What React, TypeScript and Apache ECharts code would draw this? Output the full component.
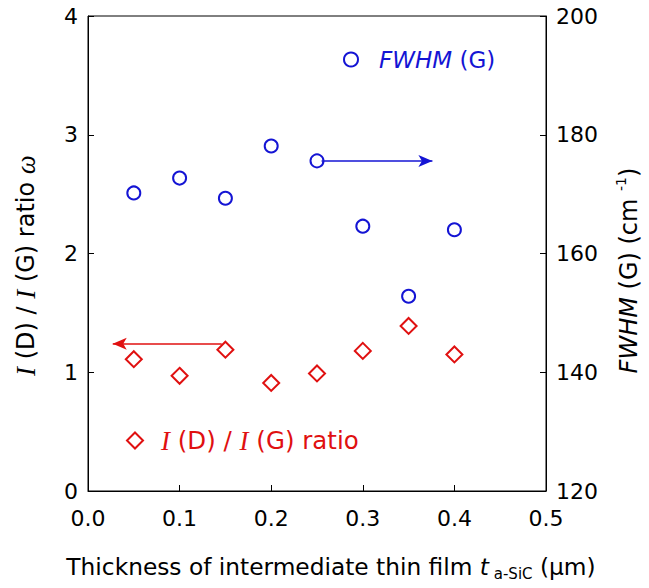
import React, { useEffect, useRef } from "react";
import * as echarts from "echarts";

const thickness = [0.05, 0.1, 0.15, 0.2, 0.25, 0.3, 0.35, 0.4];
const fwhm = [170.2, 172.7, 169.3, 178.1, 175.6, 164.6, 152.8, 164.0];
const ratio = [1.11, 0.97, 1.19, 0.91, 0.99, 1.18, 1.39, 1.15];
const xTicks = { min: 0, max: 0.5, interval: 0.1 };
const leftTicks = { min: 0, max: 4, interval: 1 };
const rightTicks = { min: 120, max: 200, interval: 20 };

const BLUE = "#1414d4";
const RED = "#e01010";
const FONT = "DejaVu Sans";
const SERIF = "Liberation Serif";

export default function App() {
  const ref = useRef<HTMLDivElement>(null);
  useEffect(() => {
    const chart = echarts.init(ref.current!, null, { renderer: "svg" });
    const axisCommon = {
      axisLine: { show: true, lineStyle: { color: "#000", width: 1 } },
      axisTick: { show: true, inside: true, length: 6, lineStyle: { color: "#000" } },
      splitLine: { show: false },
      axisLabel: { color: "#000", fontSize: 22, fontFamily: FONT },
    };
    chart.setOption({
      animation: false,
      backgroundColor: "#fff",
      grid: { left: 88, right: 103, top: 16, bottom: 97, show: true, borderColor: "#000", borderWidth: 1, backgroundColor: "transparent" },
      xAxis: {
        type: "value",
        ...xTicks,
        ...axisCommon,
        axisLabel: { ...axisCommon.axisLabel, margin: 16, formatter: (v: number) => v.toFixed(1) },
        name: "{n|Thickness of intermediate thin film }{i|t}{s| a-SiC}{n| (μm)}",
        nameLocation: "middle",
        nameGap: 60,
        nameTextStyle: {
          padding: [0, 0, 0, 28],
          rich: {
            n: { fontSize: 23.3, fontFamily: FONT, color: "#000", lineHeight: 30, verticalAlign: "middle" },
            i: { fontSize: 23.3, fontFamily: FONT, color: "#000", fontStyle: "italic", lineHeight: 30, verticalAlign: "middle" },
            s: { fontSize: 15, fontFamily: FONT, color: "#000", lineHeight: 30, verticalAlign: "bottom", padding: [14, 0, 0, 0] },
          },
        },
      },
      yAxis: [
        {
          type: "value",
          ...leftTicks,
          ...axisCommon,
          axisLabel: { ...axisCommon.axisLabel, margin: 10 },
          name: "{i|I}{n| (D) / }{i|I}{n| (G) ratio }{i|ω}",
          nameLocation: "middle",
          nameGap: 47,
          nameRotate: 90,
          nameTextStyle: {
            padding: [0, 24, 0, 0],
            rich: {
              n: { fontSize: 24, fontFamily: FONT, color: "#000", lineHeight: 30 },
              i: { fontSize: 27, fontFamily: SERIF, fontStyle: "italic", color: "#000", lineHeight: 30 },
            },
          },
        },
        {
          type: "value",
          ...rightTicks,
          ...axisCommon,
          position: "right",
          axisLabel: { ...axisCommon.axisLabel, margin: 10 },
          name: "{i|FWHM}{n| (G) (cm }{s|-1}{n|)}",
          nameLocation: "middle",
          nameGap: 68,
          nameRotate: 90,
          nameTextStyle: {
            padding: [0, 34, 0, 0],
            rich: {
              n: { fontSize: 24, fontFamily: FONT, color: "#000", lineHeight: 30, verticalAlign: "middle" },
              i: { fontSize: 24, fontFamily: FONT, fontStyle: "italic", color: "#000", lineHeight: 30, verticalAlign: "middle" },
              s: { fontSize: 14, fontFamily: FONT, color: "#000", lineHeight: 30, verticalAlign: "top", padding: [0, 0, 12, 0] },
            },
          },
        },
      ],
      legend: [
        {
          data: ["FWHM"],
          left: 343,
          top: 48,
          padding: 0,
          icon: "emptyCircle",
          itemWidth: 14,
          itemHeight: 14,
          formatter: () => "{i|FWHM}{n| (G)}",
          textStyle: {
            rich: {
              i: { fontSize: 23, fontFamily: FONT, fontStyle: "italic", color: BLUE, padding: [0, 0, 0, 16] },
              n: { fontSize: 23, fontFamily: FONT, color: BLUE },
            },
          },
        },
        {
          data: ["ratio"],
          left: 126,
          top: 427,
          padding: 0,
          icon: "emptyDiamond",
          itemWidth: 16,
          itemHeight: 16,
          formatter: () => "{i|I}{n| (D) / }{j|I}{n| (G) ratio}",
          textStyle: {
            rich: {
              i: { fontSize: 27, fontFamily: SERIF, fontStyle: "italic", color: RED, padding: [0, 0, 0, 13] },
              j: { fontSize: 27, fontFamily: SERIF, fontStyle: "italic", color: RED },
              n: { fontSize: 24.5, fontFamily: FONT, color: RED },
            },
          },
        },
      ],
      series: [
        {
          name: "FWHM",
          type: "scatter",
          yAxisIndex: 1,
          symbol: "emptyCircle",
          symbolSize: 13,
          itemStyle: { color: BLUE, borderColor: BLUE, borderWidth: 1.5, opacity: 1 },
          data: thickness.map((x, i) => [x, fwhm[i]]),
          markLine: {
            silent: true,
            symbol: ["none", "arrow"],
            symbolSize: [9, 14],
            label: { show: false },
            lineStyle: { color: BLUE, width: 1.5, type: "solid", opacity: 1 },
            data: [[{ coord: [0.255, 175.6] }, { coord: [0.376, 175.6] }]],
          },
        },
        {
          name: "ratio",
          type: "scatter",
          yAxisIndex: 0,
          symbol: "emptyDiamond",
          symbolSize: 16,
          itemStyle: { color: RED, borderColor: RED, borderWidth: 1.5, opacity: 1 },
          data: thickness.map((x, i) => [x, ratio[i]]),
          markLine: {
            silent: true,
            symbol: ["none", "arrow"],
            symbolSize: [9, 14],
            label: { show: false },
            lineStyle: { color: RED, width: 1.5, type: "solid", opacity: 1 },
            data: [[{ coord: [0.146, 1.24] }, { coord: [0.027, 1.24] }]],
          },
        },
      ],
    });
    return () => chart.dispose();
  }, []);
  return <div ref={ref} style={{ width: 649, height: 588, position: "absolute", left: 0, top: 0 }} />;
}
